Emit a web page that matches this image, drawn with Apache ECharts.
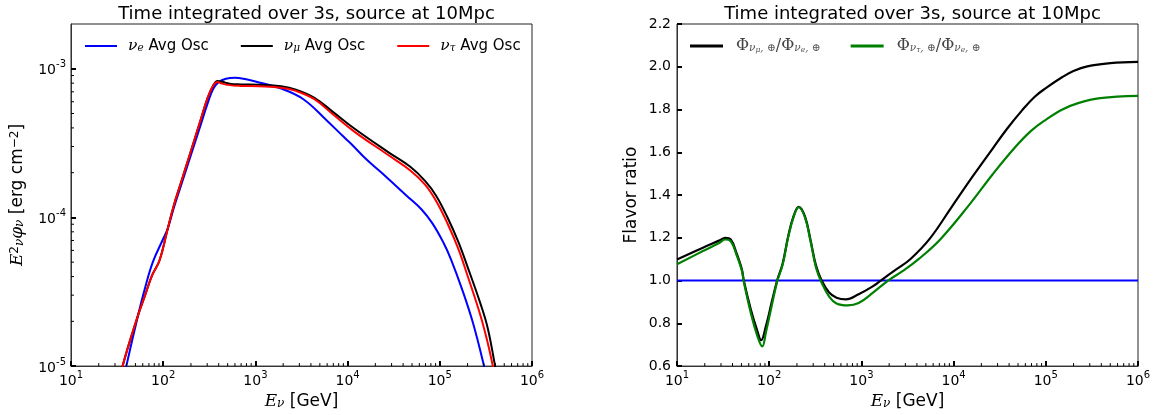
<!DOCTYPE html>
<html>
<head>
<meta charset="utf-8">
<script src="https://cdn.jsdelivr.net/npm/echarts@6/dist/echarts.min.js"></script>
<style>
html,body{margin:0;padding:0;background:#fff;}
#chart{width:1162px;height:415px;}
</style>
</head>
<body>
<div id="chart"></div>
<script>
// ---------- Left panel: E^2 phi [erg cm^-2] vs E [GeV] ----------
const nueE    = [35.5, 39.8, 53.5, 63.1, 77.3, 100, 111.7, 131.8, 169.0, 199.5, 244.3, 302.0, 346.7, 398.1, 478.6, 602.6, 794.3, 1000, 1905, 3311, 5754, 9120, 10965, 15849, 22909, 43652, 63096, 83176, 109648, 131826, 173780, 229087, 301995, 331131];
const nueFlux = [7.08e-6, 1.0e-5, 2.21e-5, 3.30e-5, 5.02e-5, 7.19e-5, 8.39e-5, 1.186e-4, 1.91e-4, 2.62e-4, 3.86e-4, 5.79e-4, 7.28e-4, 8.11e-4, 8.56e-4, 8.69e-4, 8.49e-4, 8.22e-4, 7.35e-4, 6.24e-4, 4.58e-4, 3.47e-4, 3.12e-4, 2.47e-4, 2.02e-4, 1.40e-4, 1.135e-4, 9.12e-5, 6.76e-5, 5.25e-5, 3.31e-5, 1.95e-5, 1.0e-5, 7.59e-6];

const numuE    = [33.1, 36.3, 53.5, 63.1, 75.9, 91.2, 109.6, 129.4, 158.5, 199.5, 251.2, 302.0, 346.7, 389.0, 436.5, 524.8, 691.8, 1096, 1905, 2754, 4365, 6918, 12023, 27542, 47863, 69183, 91201, 120226, 158489, 199526, 275423, 331131, 398107, 436516];
const numuFlux = [7.08e-6, 1.0e-5, 2.21e-5, 2.95e-5, 4.09e-5, 5.13e-5, 7.94e-5, 1.186e-4, 1.77e-4, 2.79e-4, 4.40e-4, 6.32e-4, 7.67e-4, 8.28e-4, 8.17e-4, 7.94e-4, 7.85e-4, 7.80e-4, 7.62e-4, 7.24e-4, 6.38e-4, 5.13e-4, 3.93e-4, 2.75e-4, 2.19e-4, 1.76e-4, 1.40e-4, 1.01e-4, 6.87e-5, 4.67e-5, 2.64e-5, 1.80e-5, 1.0e-5, 7.41e-6];

const nutauE    = [33.1, 36.3, 53.5, 63.1, 75.9, 91.2, 109.6, 129.4, 158.5, 199.5, 251.2, 302.0, 346.7, 389.0, 436.5, 524.8, 691.8, 1096, 1905, 2754, 4365, 6918, 12023, 27542, 47863, 69183, 91201, 120226, 158489, 199526, 275423, 331131, 375837, 416869];
const nutauFlux = [7.08e-6, 1.0e-5, 2.21e-5, 2.95e-5, 4.09e-5, 5.13e-5, 7.94e-5, 1.186e-4, 1.77e-4, 2.79e-4, 4.40e-4, 6.32e-4, 7.67e-4, 8.15e-4, 7.94e-4, 7.76e-4, 7.67e-4, 7.62e-4, 7.46e-4, 7.10e-4, 6.24e-4, 4.94e-4, 3.75e-4, 2.63e-4, 2.07e-4, 1.66e-4, 1.29e-4, 9.21e-5, 6.17e-5, 4.07e-5, 2.20e-5, 1.43e-5, 1.0e-5, 7.08e-6];

// ---------- Right panel: flavor ratios ----------
const ratioMuE = [10, 19.1, 29.0, 33.3, 38.3, 44.1, 50.6, 53.0, 63.1, 73.3, 81.8, 92.3, 106.2, 121.9, 140.0, 161.1, 184.9, 208.9, 244.3, 280.5, 322.1, 370.7, 446.7, 537, 676, 933, 1349, 1622, 2344, 3388, 5495, 9550, 16596, 26303, 38019, 54954, 75858, 100000, 151356, 199526, 281838, 501187, 1000000];
const ratioMu  = [1.099, 1.154, 1.188, 1.200, 1.192, 1.130, 1.052, 1.0, 0.866, 0.773, 0.721, 0.788, 0.897, 1.0, 1.08, 1.21, 1.305, 1.345, 1.30, 1.19, 1.07, 1.0, 0.944, 0.92, 0.912, 0.936, 0.975, 1.0, 1.05, 1.10, 1.195, 1.345, 1.495, 1.615, 1.71, 1.795, 1.86, 1.90, 1.952, 1.98, 2.002, 2.017, 2.023];

const ratioTauE = [10, 19.1, 29.0, 33.3, 38.3, 44.1, 50.6, 53.0, 63.1, 73.3, 84.1, 92.3, 106.2, 121.9, 140.0, 161.1, 184.9, 208.9, 244.3, 280.5, 322.1, 370.7, 446.7, 537, 708, 933, 1349, 1950, 2818, 4169, 7244, 15136, 26303, 45709, 69183, 100000, 151356, 223872, 389045, 1000000];
const ratioTau  = [1.076, 1.138, 1.177, 1.192, 1.184, 1.122, 1.045, 0.995, 0.85, 0.75, 0.692, 0.76, 0.88, 0.995, 1.075, 1.205, 1.30, 1.343, 1.295, 1.185, 1.06, 0.99, 0.925, 0.893, 0.884, 0.895, 0.945, 1.0, 1.045, 1.10, 1.195, 1.36, 1.495, 1.62, 1.70, 1.752, 1.80, 1.83, 1.853, 1.864];

const ratioEE = [10, 1000000];
const ratioE  = [1.0, 1.0];

// ---------- Axis ticks ----------
const minorX = [20,30,40,50,60,70,80,90, 200,300,400,500,600,700,800,900, 2000,3000,4000,5000,6000,7000,8000,9000, 20000,30000,40000,50000,60000,70000,80000,90000, 200000,300000,400000,500000,600000,700000,800000,900000];
const minorYLeft = [2e-5,3e-5,4e-5,5e-5,6e-5,7e-5,8e-5,9e-5, 2e-4,3e-4,4e-4,5e-4,6e-4,7e-4,8e-4,9e-4];
const titleText = 'Time integrated over 3s, source at 10Mpc';

const zip = (a, b) => a.map((v, i) => [v, b[i]]);

const SANS = 'DejaVu Sans';
const SERIF = 'DejaVu Serif';

const supRich = {
  b: {fontSize: 14, fontFamily: SANS, color: '#000', lineHeight: 18, verticalAlign: 'bottom'},
  s: {fontSize: 10, fontFamily: SANS, color: '#000', lineHeight: 12, verticalAlign: 'top'}
};
const logLabel = v => '{b|10}{s|' + Math.round(Math.log10(v)) + '}';

const nameRich = {
  t: {fontSize: 17, fontFamily: SANS, color: '#000'},
  m: {fontSize: 17, fontFamily: SERIF, fontStyle: 'italic', color: '#000'},
  sup: {fontSize: 12, fontFamily: SANS, color: '#000', verticalAlign: 'top', lineHeight: 14},
  sub: {fontSize: 12, fontFamily: SERIF, fontStyle: 'italic', color: '#000', verticalAlign: 'bottom', lineHeight: 14}
};

function tickSeries(xIdx, yIdx, data, dir) {
  return {
    type: 'custom', xAxisIndex: xIdx, yAxisIndex: yIdx, silent: true, z: 10,
    data: data,
    renderItem: function (params, api) {
      const p = api.coord([api.value(0), api.value(1)]);
      const L = 3;
      const shape = dir === 'x'
        ? {x1: p[0], y1: p[1], x2: p[0], y2: p[1] - L}
        : {x1: p[0], y1: p[1], x2: p[0] + L, y2: p[1]};
      return {type: 'line', shape: shape, style: {stroke: '#000', lineWidth: 1}};
    }
  };
}

const axisCommon = {
  axisLine: {show: true, lineStyle: {color: '#333', width: 1}},
  axisTick: {show: true, inside: true, length: 5, lineStyle: {color: '#000', width: 2}},
  splitLine: {show: false},
  minorTick: {show: false}
};

const chart = echarts.init(document.getElementById('chart'), null, {renderer: 'canvas'});

const option = {
  animation: false,
  backgroundColor: '#fff',
  title: [
    {text: titleText, left: 301.5, top: 0, textAlign: 'center',
     textStyle: {fontFamily: SANS, fontSize: 18, fontWeight: 'normal', color: '#000'}},
    {text: titleText, left: 907.5, top: 0, textAlign: 'center',
     textStyle: {fontFamily: SANS, fontSize: 18, fontWeight: 'normal', color: '#000'}}
  ],
  legend: [
    {
      data: ['nue', 'numu', 'nutau'],
      left: 80, top: 33,
      icon: 'rect', itemWidth: 32, itemHeight: 2, itemGap: 32,
      formatter: function (name) {
        return {nue: '{m|ν}{s|e}{t| Avg Osc}', numu: '{m|ν}{s|μ}{t| Avg Osc}', nutau: '{m|ν}{s|τ}{t| Avg Osc}'}[name];
      },
      textStyle: {
        padding: [0, 0, 0, 6],
        rich: {
          t: {fontSize: 15, fontFamily: SANS, color: '#000'},
          m: {fontSize: 15.5, fontFamily: SERIF, fontStyle: 'italic', color: '#000'},
          s: {fontSize: 10.5, fontFamily: SERIF, fontStyle: 'italic', color: '#000', verticalAlign: 'bottom', lineHeight: 12}
        }
      }
    },
    {
      data: ['rmu', 'rtau'],
      left: 685, top: 33,
      icon: 'rect', itemWidth: 33, itemHeight: 3, itemGap: 30,
      formatter: function (name) {
        return name === 'rmu'
          ? '{m|Φ}{s|ν}{ss|μ}{s|, ⊕}{m|/Φ}{s|ν}{ss|e}{s|, ⊕}'
          : '{m|Φ}{s|ν}{ss|τ}{s|, ⊕}{m|/Φ}{s|ν}{ss|e}{s|, ⊕}';
      },
      textStyle: {
        padding: [0, 0, 0, 8],
        rich: {
          m: {fontSize: 16, fontFamily: SERIF, color: '#444'},
          s: {fontSize: 10.5, fontFamily: SERIF, fontStyle: 'italic', color: '#555', verticalAlign: 'bottom', lineHeight: 14},
          ss: {fontSize: 7.5, fontFamily: SERIF, fontStyle: 'italic', color: '#555', verticalAlign: 'bottom', lineHeight: 10}
        }
      }
    }
  ],
  grid: [
    {left: 71, top: 24, width: 461, height: 344, show: true, borderColor: '#222', borderWidth: 1, backgroundColor: 'transparent'},
    {left: 677, top: 24, width: 461, height: 343, show: true, borderColor: '#222', borderWidth: 1, backgroundColor: 'transparent'}
  ],
  xAxis: [
    Object.assign({}, axisCommon, {
      gridIndex: 0, type: 'log', logBase: 10, min: 10, max: 1e6, interval: 1,
      name: '{m|E}{sub|ν}{t| [GeV]}', nameLocation: 'middle', nameGap: 24,
      nameTextStyle: {rich: nameRich, verticalAlign: 'top'},
      axisLabel: {formatter: logLabel, rich: supRich, margin: 4}
    }),
    Object.assign({}, axisCommon, {
      gridIndex: 1, type: 'log', logBase: 10, min: 10, max: 1e6, interval: 1,
      name: '{m|E}{sub|ν}{t| [GeV]}', nameLocation: 'middle', nameGap: 24,
      nameTextStyle: {rich: nameRich, verticalAlign: 'top'},
      axisLabel: {formatter: logLabel, rich: supRich, margin: 4}
    })
  ],
  yAxis: [
    Object.assign({}, axisCommon, {
      gridIndex: 0, type: 'log', logBase: 10, min: 1e-5, max: 2e-3, interval: 1,
      name: '{m|E}{sup|2}{sub|ν}{m|φ}{sub|ν}{t| [erg cm}{sup|−2}{t|]}', nameLocation: 'middle', nameGap: 45,
      nameTextStyle: {rich: nameRich},
      axisLabel: {formatter: logLabel, rich: supRich, margin: 5, showMaxLabel: false}
    }),
    Object.assign({}, axisCommon, {
      gridIndex: 1, type: 'value', min: 0.6, max: 2.2, interval: 0.2,
      name: 'Flavor ratio', nameLocation: 'middle', nameGap: 37,
      nameTextStyle: {fontFamily: SANS, fontSize: 17, color: '#000'},
      axisLabel: {formatter: v => v.toFixed(1), fontFamily: SANS, fontSize: 14, color: '#000', margin: 6}
    })
  ],
  series: [
    {id: 'nue', name: 'nue', type: 'line', xAxisIndex: 0, yAxisIndex: 0, data: zip(nueE, nueFlux),
     showSymbol: false, smooth: 0.4, lineStyle: {color: '#0000ff', width: 2}, itemStyle: {color: '#0000ff'}},
    {id: 'numu', name: 'numu', type: 'line', xAxisIndex: 0, yAxisIndex: 0, data: zip(numuE, numuFlux),
     showSymbol: false, smooth: 0.4, lineStyle: {color: '#000000', width: 2}, itemStyle: {color: '#000000'}},
    {id: 'nutau', name: 'nutau', type: 'line', xAxisIndex: 0, yAxisIndex: 0, data: zip(nutauE, nutauFlux),
     showSymbol: false, smooth: 0.4, lineStyle: {color: '#ff0000', width: 2}, itemStyle: {color: '#ff0000'}},
    {id: 'rone', name: 'rone', type: 'line', xAxisIndex: 1, yAxisIndex: 1, data: zip(ratioEE, ratioE),
     showSymbol: false, lineStyle: {color: '#0000ff', width: 2}, itemStyle: {color: '#0000ff'}},
    {id: 'rmu', name: 'rmu', type: 'line', xAxisIndex: 1, yAxisIndex: 1, data: zip(ratioMuE, ratioMu),
     showSymbol: false, smooth: 0.4, lineStyle: {color: '#000000', width: 2.2}, itemStyle: {color: '#000000'}},
    {id: 'rtau', name: 'rtau', type: 'line', xAxisIndex: 1, yAxisIndex: 1, data: zip(ratioTauE, ratioTau),
     showSymbol: false, smooth: 0.4, lineStyle: {color: '#008000', width: 2.2}, itemStyle: {color: '#008000'}},
    tickSeries(0, 0, minorX.map(v => [v, 1e-5]), 'x'),
    tickSeries(0, 0, minorYLeft.map(v => [10, v]), 'y'),
    tickSeries(1, 1, minorX.map(v => [v, 0.6]), 'x')
  ]
};
chart.setOption(option);
</script>
</body>
</html>
